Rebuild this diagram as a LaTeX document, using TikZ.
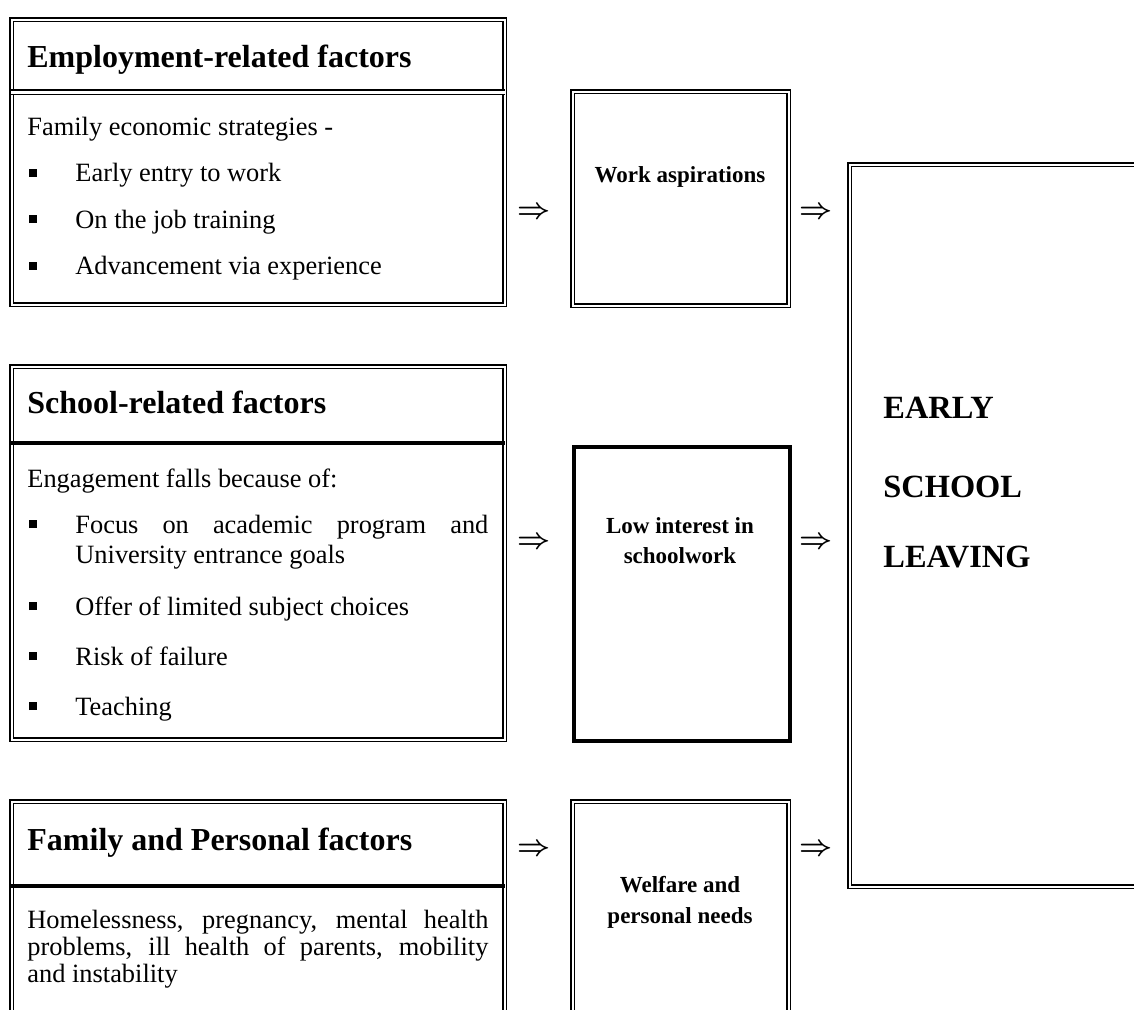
\documentclass[tikz,border=0pt]{standalone}
\usepackage{fontspec}
\setmainfont{Liberation Serif}
\begin{document}
\begin{tikzpicture}[x=0.5pt,y=-0.5pt]

\tikzset{%
dblbox/.style={
draw,
double,
double distance=1pt,
line width=0.7pt,
inner sep=0pt,
anchor=north west
},
thickbox/.style={
draw,
line width=2pt,
inner sep=0pt,
anchor=north west
},
headtext/.style={font=\fontsize{16}{19}\selectfont\bfseries, anchor=base west, inner sep=0pt},
bodytext/.style={font=\fontsize{13.2}{15}\selectfont, anchor=base west, inner sep=0pt},
midtext/.style={font=\fontsize{11.5}{14}\selectfont\bfseries, anchor=base, inner sep=0pt},
bigtext/.style={font=\fontsize{16.2}{20}\selectfont\bfseries, anchor=base west, inner sep=0pt},
arrowsym/.style={font=\fontsize{15}{15}\selectfont\boldmath, inner sep=0pt},
}

\useasboundingbox (0,0) rectangle (1134,1009);
\clip (0,0) rectangle (1134,1009);

% Factor boxes on the left
\node [dblbox, minimum width=246.5pt, minimum height=142.5pt] (emp) at (11,19) {};
\node [dblbox, minimum width=246.5pt, minimum height=186.5pt] (sch) at (11,366) {};
\node [dblbox, minimum width=246.5pt, minimum height=109.5pt] (fam) at (11,801) {};

% Header dividers
\coordinate (emp-div) at (11,92);
\coordinate (sch-div) at (11,443);
\coordinate (fam-div) at (11,886);
\draw [double, double distance=1.5pt, line width=0.6pt] (emp-div) -- (emp-div -| emp.east);
\draw [line width=2pt] (sch-div) -- (sch-div -| sch.east);
\draw [line width=2pt] (fam-div) -- (fam-div -| fam.east);

% Middle boxes
\node [dblbox, minimum width=108pt, minimum height=107pt] (work) at (572,91) {};
\node [thickbox, minimum width=108pt, minimum height=147pt] (low) at (572,445) {};
\node [dblbox, minimum width=108pt, minimum height=109.5pt] (welf) at (572,801) {};

% Outcome box
\node [dblbox, minimum width=150.5pt, minimum height=361pt] (leave) at (849,164) {};

% Employment-related factors
\node [headtext] (emp-head) at (27,67) {Employment-related factors};
\node [bodytext] (emp-intro) at (27,135) {Family economic strategies -};
\foreach \t [count=\i] in {Early entry to work, On the job training, Advancement via experience} {
\node [bodytext] (emp-b\i) at (29,{135+46.5*\i}) {\rule[2.5pt]{3.8pt}{3.8pt}};
\node [bodytext] (emp-t\i) at (75,{135+46.5*\i}) {\t};
}

% School-related factors
\node [headtext] (sch-head) at (27,413) {School-related factors};
\node [bodytext] (sch-intro) at (27,487) {Engagement falls because of:};
\node [bodytext] (sch-b1) at (29,533) {\rule[2.5pt]{3.8pt}{3.8pt}};
\node [bodytext] (sch-t1) at (75,533) {\makebox[206.5pt][s]{Focus on academic program and}};
\node [bodytext] (sch-t1b) at (75,563) {University entrance goals};
\foreach \t/\y [count=\i from 2] in {Offer of limited subject choices/615, Risk of failure/665, Teaching/715} {
\node [bodytext] (sch-b\i) at (29,\y) {\rule[2.5pt]{3.8pt}{3.8pt}};
\node [bodytext] (sch-t\i) at (75,\y) {\t};
}

% Family and Personal factors
\node [headtext] (fam-head) at (27,850) {Family and Personal factors};
\node [bodytext] (fam-t1) at (27,928) {\makebox[230.5pt][s]{Homelessness, pregnancy, mental health}};
\node [bodytext] (fam-t2) at (27,955) {\makebox[230.5pt][s]{problems, ill health of parents, mobility}};
\node [bodytext] (fam-t3) at (27,982) {and instability};

% Middle box labels
\node [midtext] (work-text) at (680,182) {Work aspirations};
\node [midtext] (low-text1) at (680,533) {Low interest in};
\node [midtext] (low-text2) at (680,563) {schoolwork};
\node [midtext] (welf-text1) at (680,892) {Welfare and};
\node [midtext] (welf-text2) at (680,923) {personal needs};

% Outcome label
\node [bigtext] (leave-1) at (883,418) {EARLY};
\node [bigtext] (leave-2) at (883,497) {SCHOOL};
\node [bigtext] (leave-3) at (883,567) {LEAVING};

% Implication arrows between the columns
\foreach \y [count=\r] in {213,543,850} {
\node [arrowsym] (in-\r) at (534,\y) {$\Rightarrow$};
\node [arrowsym] (out-\r) at (816,\y) {$\Rightarrow$};
}

\end{tikzpicture}
\end{document}
